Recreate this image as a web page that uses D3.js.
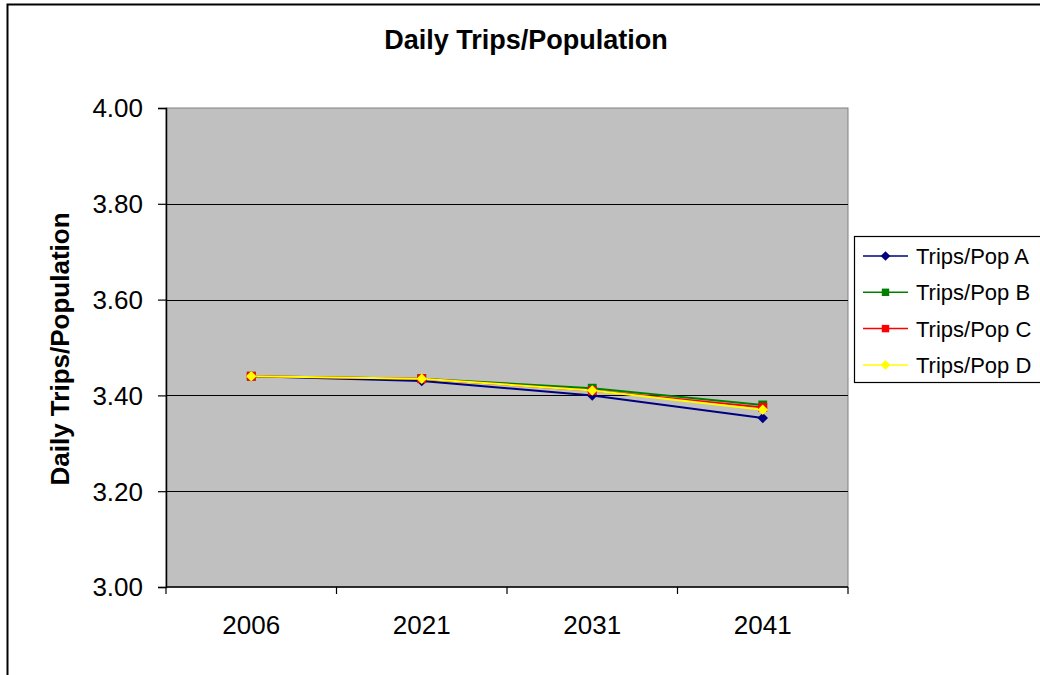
<!DOCTYPE html>
<html><head><meta charset="utf-8">
<script src="https://cdn.jsdelivr.net/npm/d3@7"></script>
<style>body{margin:0;background:#fff}svg{display:block}text{font-family:"Liberation Sans",Arial,sans-serif}</style>
</head><body>
<svg id="c" width="1040" height="675"></svg>
<script>
const categories = ["2006", "2021", "2031", "2041"];
const seriesNames = ["Trips/Pop A", "Trips/Pop B", "Trips/Pop C", "Trips/Pop D"];
const seriesA = [3.44, 3.43, 3.40, 3.353];
const seriesB = [3.44, 3.435, 3.415, 3.38];
const seriesC = [3.44, 3.435, 3.41, 3.375];
const seriesD = [3.44, 3.435, 3.41, 3.37];
const yTicks = [3.00, 3.20, 3.40, 3.60, 3.80, 4.00];
const colors = ["#000080", "#008000", "#FF0000", "#FFFF00"];
const shapes = ["diamond", "square", "square", "diamond"];
const seriesValues = [seriesA, seriesB, seriesC, seriesD];

const svg = d3.select("#c");
const L = 166, R = 848, T = 108, B = 587;
const FONT = '"Liberation Sans",Arial,sans-serif';

// outer border
svg.append("rect").attr("x", 7.5).attr("y", 4.5).attr("width", 1060).attr("height", 700)
  .attr("fill", "#fff").attr("stroke", "#000").attr("stroke-width", 2);

const x = d3.scaleBand().domain(categories).range([L, R]).padding(0);
const y = d3.scaleLinear().domain([3.0, 4.0]).range([B, T]);

// plot area
svg.append("rect").attr("x", L).attr("y", T).attr("width", R - L).attr("height", B - T)
  .attr("fill", "#C0C0C0").attr("stroke", "#808080").attr("stroke-width", 1);

// gridlines
svg.append("g").selectAll("line").data(yTicks.filter(d => d > 3 && d < 4)).join("line")
  .attr("x1", L).attr("x2", R).attr("y1", d => Math.round(y(d)) + 0.5).attr("y2", d => Math.round(y(d)) + 0.5)
  .attr("stroke", "#000").attr("stroke-width", 1.2);

// y axis
const yAxis = d3.axisLeft(y).tickValues(yTicks).tickFormat(d3.format(".2f")).tickSize(8).tickPadding(15);
const gy = svg.append("g").attr("transform", `translate(${L},0)`).call(yAxis);
gy.attr("font-size", null).attr("font-family", null);
gy.select(".domain").attr("stroke", "#000").attr("stroke-width", 1.5);
gy.selectAll(".tick line").attr("stroke", "#000").attr("stroke-width", 1.2);
gy.selectAll(".tick text").style("font-size", "26px").attr("fill", "#000").attr("dy", "0.34em")
  .style("font-family", FONT);

// x axis
const gx = svg.append("g").attr("transform", `translate(0,${B})`);
gx.append("line").attr("x1", L).attr("x2", R).attr("y1", 0).attr("y2", 0).attr("stroke", "#000").attr("stroke-width", 1.5);
const boundaries = categories.map(c => x(c)).concat([x(categories[categories.length - 1]) + x.bandwidth()]);
gx.selectAll("line.tk").data(boundaries).join("line").attr("class", "tk")
  .attr("x1", d => d).attr("x2", d => d).attr("y1", 0).attr("y2", 7).attr("stroke", "#000").attr("stroke-width", 1.2);
gx.selectAll("text").data(categories).join("text")
  .attr("x", d => x(d) + x.bandwidth() / 2).attr("y", 47).attr("text-anchor", "middle")
  .style("font-size", "26px").attr("fill", "#000").text(d => d);

// lines
const cx = c => x(c) + x.bandwidth() / 2;
const line = d3.line().x((d, i) => cx(categories[i])).y(d => y(d));
const symbolFor = (s, size) => d3.symbol().type(s === "diamond" ? d3.symbolDiamond2 : d3.symbolSquare2).size(size)();

seriesValues.forEach((vals, k) => {
  svg.append("path").datum(vals).attr("d", line).attr("fill", "none")
    .attr("stroke", colors[k]).attr("stroke-width", 2);
});
seriesValues.forEach((vals, k) => {
  svg.append("g").selectAll("path").data(vals).join("path")
    .attr("transform", (d, i) => `translate(${cx(categories[i])},${y(d)})`)
    .attr("d", symbolFor(shapes[k], shapes[k] === "diamond" ? 70 : 100))
    .attr("fill", colors[k]);
});

// title
svg.append("text").attr("x", 526).attr("y", 49).attr("text-anchor", "middle")
  .style("font-size", "27px").attr("font-weight", "bold").attr("fill", "#000").text("Daily Trips/Population");

// y label
svg.append("text").attr("transform", "translate(69,349) rotate(-90)").attr("text-anchor", "middle")
  .style("font-size", "26px").attr("font-weight", "bold").attr("fill", "#000").text("Daily Trips/Population");

// legend
const lg = svg.append("g");
lg.append("rect").attr("x", 854.5).attr("y", 236.5).attr("width", 200).attr("height", 146)
  .attr("fill", "#fff").attr("stroke", "#000").attr("stroke-width", 1.2);
seriesNames.forEach((name, k) => {
  const yy = 256 + k * 36.3;
  lg.append("line").attr("x1", 863).attr("x2", 908).attr("y1", yy).attr("y2", yy)
    .attr("stroke", colors[k]).attr("stroke-width", 1.5);
  lg.append("path").attr("transform", `translate(885.5,${yy})`)
    .attr("d", symbolFor(shapes[k], shapes[k] === "diamond" ? 60 : 70)).attr("fill", colors[k]);
  lg.append("text").attr("x", 916).attr("y", yy + 8).style("font-size", "22px").attr("fill", "#000").text(name);
});
</script>
</body></html>
